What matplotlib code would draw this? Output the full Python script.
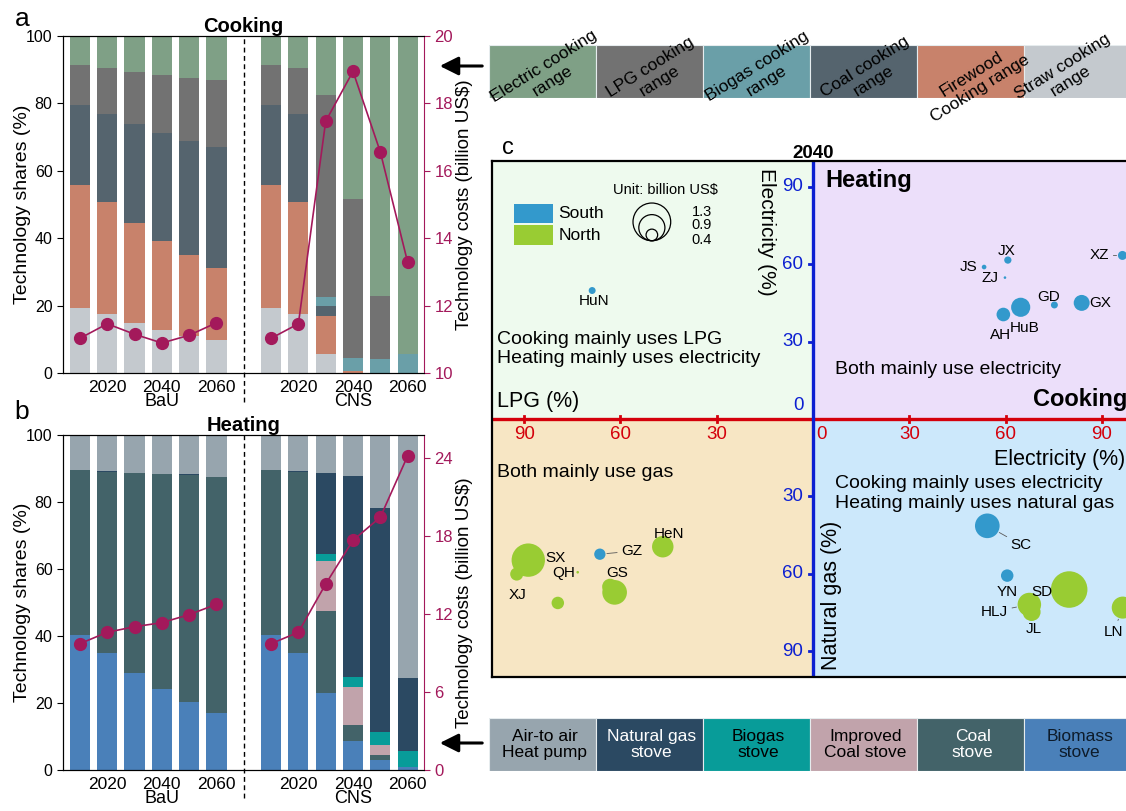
import numpy as np
import matplotlib

matplotlib.use("Agg")
import matplotlib.pyplot as plt
from matplotlib.patches import Rectangle, FancyArrowPatch
import matplotlib.transforms as mtransforms

plt.rcParams["font.family"] = ["Liberation Sans", "DejaVu Sans"]

W, H = 1126, 811

# ---------------- data ----------------
BAR_POS = [0, 1, 2, 3, 4, 5, 7, 8, 9, 10, 11, 12]   # BaU 6 bars | gap | CNS 6 bars
YEAR_TICKS = [1, 3, 5, 8, 10, 12]
YEAR_LABELS = ["2020", "2040", "2060", "2020", "2040", "2060"]
SCENARIOS = ["BaU", "CNS"]

# cooking technology shares (%), stacked bottom -> top
cook_straw    = [19.4, 17.4, 14.9, 12.9, 10.9, 9.7,  19.4, 17.4, 5.5, 0.0, 0.0, 0.0]
cook_firewood = [36.5, 33.4, 29.7, 26.4, 24.0, 21.4, 36.5, 33.4, 11.3, 0.7, 0.0, 0.0]
cook_coal     = [23.5, 26.0, 29.2, 31.8, 34.0, 35.9, 23.5, 26.0, 3.1, 0.0, 0.0, 0.0]
cook_biogas   = [0.0, 0.0, 0.0, 0.0, 0.0, 0.0,       0.0, 0.0, 2.7, 3.8, 4.3, 5.5]
cook_lpg      = [12.1, 13.7, 15.6, 17.4, 18.7, 19.9, 12.1, 13.7, 59.9, 47.2, 18.5, 0.0]
cook_electric = [8.5, 9.5, 10.6, 11.5, 12.4, 13.1,   8.5, 9.5, 17.5, 48.3, 77.2, 94.5]
cook_cost     = [11.03, 11.46, 11.15, 10.89, 11.12, 11.49,
                 11.03, 11.46, 17.47, 18.95, 16.56, 13.29]

# heating technology shares (%), stacked bottom -> top
heat_biomass  = [40.3, 34.9, 28.9, 24.2, 20.3, 17.0, 40.3, 34.9, 22.9, 8.7, 3.0, 0.9]
heat_coal     = [49.3, 54.1, 59.8, 64.2, 67.7, 70.5, 49.3, 54.1, 24.6, 4.7, 1.5, 0.0]
heat_improved = [0.0, 0.0, 0.0, 0.0, 0.0, 0.0,       0.0, 0.0, 15.0, 11.4, 3.0, 0.0]
heat_biogas   = [0.0, 0.0, 0.0, 0.0, 0.0, 0.0,       0.0, 0.0, 2.0, 3.0, 3.7, 4.8]
heat_natgas   = [0.0, 0.3, 0.0, 0.0, 0.3, 0.0,       0.0, 0.3, 24.1, 60.0, 67.0, 21.7]
heat_hp       = [10.4, 10.7, 11.3, 11.6, 11.7, 12.5, 10.4, 10.7, 11.4, 12.2, 21.8, 72.6]
heat_cost     = [9.71, 10.58, 11.01, 11.32, 11.94, 12.73,
                 9.71, 10.58, 14.29, 17.65, 19.42, 24.13]

COOK_LEGEND = ["Electric cooking\nrange", "LPG cooking\nrange", "Biogas cooking\nrange",
               "Coal cooking\nrange", "Firewood\nCooking range", "Straw cooking\nrange"]
HEAT_LEGEND = ["Air-to air\nHeat pump", "Natural gas\nstove", "Biogas\nstove",
               "Improved\nCoal stove", "Coal\nstove", "Biomass\nstove"]

# panel c (2040): x>0 electricity cooking %, x<0 LPG cooking %
#                 y>0 electricity heating %, y<0 natural gas heating %
prov_names  = ["HuN", "JX", "JS", "ZJ", "GD", "GX", "HuB", "AH", "XZ",
               "SX", "XJ", "QH", "", "GZ", "GS", "", "HeN",
               "SC", "YN", "SD", "HLJ", "JL", "LN"]
prov_x      = [-68.8, 60.7, 53.3, 59.8, 75.2, 83.7, 64.7, 59.3, 96.4,
               -88.7, -92.3, -73.3, -79.5, -66.4, -61.8, -63.2, -46.8,
               54.3, 60.5, 79.8, 67.4, 68.1, 96.5]
prov_y      = [49.8, 61.6, 58.9, 54.8, 44.2, 45.0, 43.3, 40.5, 63.4,
               -54.7, -60.1, -59.4, -71.3, -52.4, -67.2, -65.0, -49.5,
               -41.4, -60.7, -66.1, -71.9, -74.8, -73.1]
prov_cost   = [0.24, 0.25, 0.16, 0.09, 0.24, 0.55, 0.66, 0.47, 0.31,
               1.15, 0.45, 0.09, 0.43, 0.39, 0.85, 0.55, 0.74,
               0.85, 0.43, 1.26, 0.81, 0.62, 0.76]
prov_region = ["S", "S", "S", "S", "S", "S", "S", "S", "S",
               "N", "N", "N", "N", "S", "N", "N", "N",
               "S", "S", "N", "N", "N", "N"]
SIZE_LEGEND = [1.3, 0.9, 0.4]

# ---------------- styles ----------------
COOK_COLORS = ["#c4c9ce", "#c8826b", "#55646e", "#6a9fa8", "#727272", "#7fa086"]
HEAT_COLORS = ["#4a80b9", "#436369", "#c1a3ab", "#089c99", "#2b4962", "#97a5ae"]
COST_COLOR = "#a3195b"
SOUTH, NORTH = "#3399cc", "#99cc33"
BLUE_AX, RED_AX = "#0c1fd1", "#d4000b"
# label offsets in pixels; leader lines for some
lab_dx = [2, -1, -15, -15, -6, 19, 4, -3, -23,
          27, 1, -14, 0, 32, 3, 0, 6,
          34, 0, -27, -35, 2, -9]
lab_dy = [-10, 9, 0, 0, 8, 0, -21, -20, 0,
          2, -21, -1, 0, 3, 19, 0, 13,
          -19, -16, -2, -7, -17, -24]
lab_leader = ["XZ", "GZ", "SC", "HLJ", "LN"]

fig = plt.figure(figsize=(W / 100, H / 100), dpi=100)


def fax(left, top, right, bottom):
    return fig.add_axes([left / W, 1 - bottom / H, (right - left) / W, (bottom - top) / H])


def stacked_panel(ax, layers, colors, cost, cost_lim, cost_ticks, title):
    bottom = np.zeros(len(BAR_POS))
    for vals, c in zip(layers, colors):
        ax.bar(BAR_POS, vals, width=0.74, bottom=bottom, color=c, linewidth=0, zorder=2)
        bottom += np.array(vals)
    ax.set_xlim(-0.62, 12.6)
    ax.set_ylim(0, 100)
    ax.set_yticks(range(0, 101, 20))
    ax.set_xticks(YEAR_TICKS)
    ax.set_xticklabels(YEAR_LABELS)
    ax.tick_params(axis="x", length=0, pad=5, labelsize=12.5)
    ax.tick_params(axis="y", length=4, labelsize=11.5)
    ax.set_ylabel("Technology shares (%)", fontsize=14)
    ax.yaxis.set_label_coords(-0.09, 0.5)
    ax.set_title(title, fontsize=14.5, fontweight="bold", pad=2)
    ax.spines["right"].set_visible(False)
    trans = mtransforms.blended_transform_factory(ax.transData, ax.transAxes)
    ax.plot([6, 6], [-0.085, 1], transform=trans, clip_on=False, color="black",
            lw=1, dashes=(3.5, 2.5))
    for xpos, s in zip([3, 10], SCENARIOS):
        ax.text(xpos, -0.085, s, transform=trans, ha="center", va="center", fontsize=13)

    ax2 = ax.twinx()
    ax2.plot(BAR_POS[:6], cost[:6], color=COST_COLOR, lw=1.2, marker="o", ms=8.5, zorder=5)
    ax2.plot(BAR_POS[6:], cost[6:], color=COST_COLOR, lw=1.2, marker="o", ms=8.5, zorder=5)
    ax2.set_ylim(*cost_lim)
    ax2.set_yticks(cost_ticks)
    ax2.spines["right"].set_color(COST_COLOR)
    ax2.tick_params(axis="y", colors=COST_COLOR, length=4, labelsize=12)
    ax2.set_ylabel("Technology costs (billion US$)", fontsize=13.5)
    ax2.yaxis.set_label_coords(1.09, 0.5)
    return ax2


# panel a
ax_a = fax(63, 36, 424, 373)
stacked_panel(ax_a, [cook_straw, cook_firewood, cook_coal, cook_biogas, cook_lpg, cook_electric],
              COOK_COLORS, cook_cost, (10, 20), range(10, 21, 2), "Cooking")
fig.text(22 / W, 1 - 19 / H, "a", fontsize=19, ha="center", va="center")

# panel b
ax_b = fax(63, 435, 424, 770)
stacked_panel(ax_b, [heat_biomass, heat_coal, heat_improved, heat_biogas, heat_natgas, heat_hp],
              HEAT_COLORS, heat_cost, (0, 25.74), range(0, 25, 6), "Heating")
fig.text(22 / W, 1 - 412 / H, "b", fontsize=19, ha="center", va="center")

# legend strips
leg_cook_colors = COOK_COLORS[::-1]
leg_heat_colors = HEAT_COLORS[::-1]
ax_lc = fax(489, 44.7, 1131, 97.7)
ax_lh = fax(489, 718, 1131, 771)
for axl, labels, colors, rot in [(ax_lc, COOK_LEGEND, leg_cook_colors, 32),
                                 (ax_lh, HEAT_LEGEND, leg_heat_colors, 0)]:
    axl.set_xlim(0, 6)
    axl.set_ylim(0, 1)
    axl.axis("off")
    for i, (lab, c) in enumerate(zip(labels, colors)):
        axl.add_patch(Rectangle((i, 0), 1, 1, facecolor=c, edgecolor="#e6ecee", lw=0.8))
        tc = "white" if (rot == 0 and c in ("#2b4962", "#436369")) else "black"
        if rot == 0 and c == "#4a80b9":
            tc = "#0d1b2a"
        xc, yc = i + 0.52, 0.5
        if rot:
            xc, yc = i + 0.55, 0.45
            if lab.startswith("Firewood"):
                yc = 0.3
            if lab.startswith("Straw"):
                xc = i + 0.40
        axl.text(xc, yc, lab, ha="center", va="center", rotation=rot,
                 fontsize=12.5, color=tc, linespacing=1.15, clip_on=False)

for yy in (66, 743):
    fig.add_artist(FancyArrowPatch(
        (485 / W, 1 - yy / H), (437 / W, 1 - yy / H), transform=fig.transFigure,
        arrowstyle="-|>", mutation_scale=28, color="black", lw=2.2))

# panel c
ax_c = fax(492, 161, 1134, 677)
ax_c.set_xlim(-100, 100)
ax_c.set_ylim(-100, 100)
ax_c.set_xticks([])
ax_c.set_yticks([])
for sp in ax_c.spines.values():
    sp.set_linewidth(1.6)
for (x0, y0), c in [((-100, 0), "#eefaee"), ((0, 0), "#ecdffa"),
                    ((-100, -100), "#f7e6c4"), ((0, -100), "#cce8fb")]:
    ax_c.add_patch(Rectangle((x0, y0), 100, 100, facecolor=c, edgecolor="none", zorder=0))

ax_c.axhline(0, color=RED_AX, lw=2.4, zorder=1)
ax_c.axvline(0, color=BLUE_AX, lw=2.4, zorder=1)
for v in (30, 60, 90):
    for s in (-1, 1):
        ax_c.plot([s * v, s * v], [-1.3, 1.3], color=RED_AX, lw=2, zorder=1)
        ax_c.text(s * v, -6.2, str(v), color=RED_AX, ha="center", va="center", fontsize=13.5)
        ax_c.plot([-1.3, 0], [s * v, s * v], color=BLUE_AX, lw=2, zorder=1)
        ax_c.text(-3.0, s * v, str(v), color=BLUE_AX, ha="right", va="center", fontsize=13.5)
ax_c.text(-3.0, 5.2, "0", color=BLUE_AX, ha="right", va="center", fontsize=13.5)
ax_c.text(1.0, -6.2, "0", color=RED_AX, ha="left", va="center", fontsize=13.5)

# bubbles
PX_PER_BUSD = 14.5


def bubble_s(v):
    return (2 * PX_PER_BUSD * v * 0.72) ** 2


cols = [SOUTH if r == "S" else NORTH for r in prov_region]
ax_c.scatter(prov_x, prov_y, s=[bubble_s(v) for v in prov_cost], c=cols,
             linewidths=0, zorder=3)
for name, x, y, v, dx, dy in zip(prov_names, prov_x, prov_y, prov_cost, lab_dx, lab_dy):
    if not name:
        continue
    ap = None
    if name in lab_leader:
        ap = dict(arrowstyle="-", lw=0.6, color="0.35",
                  shrinkA=1, shrinkB=PX_PER_BUSD * v * 0.72 + 1)
    ax_c.annotate(name, (x, y), xytext=(dx, dy), textcoords="offset pixels",
                  ha="center", va="center", fontsize=11, zorder=4, arrowprops=ap)

# region legend
ax_c.add_patch(Rectangle((-93.1, 75.9), 12.0, 7.5, facecolor=SOUTH, edgecolor="none", zorder=3))
ax_c.add_patch(Rectangle((-93.1, 67.6), 12.0, 7.5, facecolor=NORTH, edgecolor="none", zorder=3))
ax_c.text(-79.4, 79.6, "South", fontsize=12.5, va="center")
ax_c.text(-79.4, 71.3, "North", fontsize=12.5, va="center")

# size legend (nested circles sharing a bottom point)
ax_c.text(-46.1, 88.9, "Unit: billion US$", fontsize=10.5, ha="center", va="center")
y_bot = 69.1
for v, ly in zip(SIZE_LEGEND, [80.3, 75.1, 69.4]):
    r_data = PX_PER_BUSD * v * 200 / 516
    ax_c.scatter([-50.2], [y_bot + r_data], s=bubble_s(v), facecolors="none",
                 edgecolors="black", linewidths=0.9, zorder=3)
    ax_c.text(-37.8, ly, f"{v}", fontsize=10.5, va="center")

# quadrant annotations
ax_c.text(-98.4, 27.1, "Cooking mainly uses LPG\nHeating mainly uses electricity",
          fontsize=14, va="center", linespacing=1.2)
ax_c.text(-98.4, 6.7, "LPG (%)", fontsize=15.5, va="center")
ax_c.text(-14.4, 72.7, "Electricity (%)", fontsize=15, rotation=270,
          ha="center", va="center")
ax_c.text(3.7, 92.5, "Heating", fontsize=17, fontweight="bold", va="center")
ax_c.text(6.9, 19.0, "Both mainly use electricity", fontsize=14, va="center")
ax_c.text(68.4, 7.4, "Cooking", fontsize=17, fontweight="bold", va="center")
ax_c.text(-98.5, -20.8, "Both mainly use gas", fontsize=14, va="center")
ax_c.text(56.4, -15.6, "Electricity (%)", fontsize=15.5, va="center")
ax_c.text(6.9, -28.9, "Cooking mainly uses electricity\nHeating mainly uses natural gas",
          fontsize=14, va="center", linespacing=1.2)
ax_c.text(5.8, -68.3, "Natural gas (%)", fontsize=15.5, rotation=90,
          ha="center", va="center")
ax_c.text(0, 103, "2040", fontsize=13.5, fontweight="bold", ha="center", va="center")
ax_c.text(-97, 105, "c", fontsize=17, ha="left", va="center")

fig.savefig("out.png", dpi=100)
